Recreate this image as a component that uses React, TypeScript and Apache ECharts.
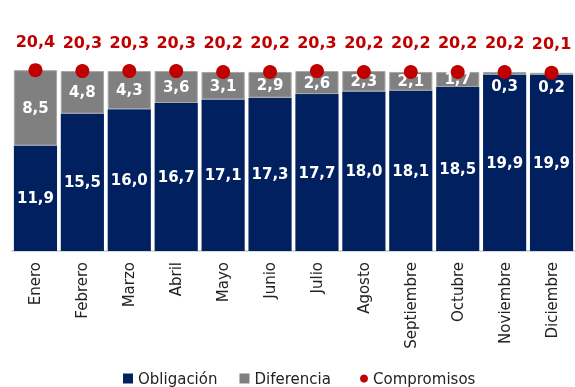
import React, { useEffect, useRef } from "react";
import * as echarts from "echarts";

const categories = ["Enero", "Febrero", "Marzo", "Abril", "Mayo", "Junio", "Julio", "Agosto", "Septiembre", "Octubre", "Noviembre", "Diciembre"];
const obligacion = [11.9, 15.5, 16.0, 16.7, 17.1, 17.3, 17.7, 18.0, 18.1, 18.5, 19.9, 19.9];
const diferencia = [8.5, 4.8, 4.3, 3.6, 3.1, 2.9, 2.6, 2.3, 2.1, 1.7, 0.3, 0.2];
const compromisos = [20.4, 20.3, 20.3, 20.3, 20.2, 20.2, 20.3, 20.2, 20.2, 20.2, 20.2, 20.1];

const FONT = "DejaVu Sans";
const fmt = (v: number) => v.toFixed(1).replace(".", ",");

export default function App() {
  const ref = useRef<HTMLDivElement>(null);
  useEffect(() => {
    if (!ref.current) return;
    const chart = echarts.init(ref.current, undefined, { renderer: "svg" });
    const legendText = { fontFamily: FONT, fontSize: 15, color: "#222" };
    chart.setOption({
      animation: false,
      grid: { left: 12, right: 0, top: 56, bottom: 136 },
      legend: [
        {
          bottom: -4,
          left: 118,
          itemGap: 22,
          itemWidth: 10,
          itemHeight: 10,
          textStyle: legendText,
          data: [
            { name: "Obligación", icon: "rect", itemStyle: { borderWidth: 0 } },
            { name: "Diferencia", icon: "rect", itemStyle: { borderWidth: 0 } },
          ],
        },
        {
          bottom: -4,
          left: 355,
          itemWidth: 8,
          itemHeight: 8,
          textStyle: legendText,
          data: [{ name: "Compromisos", icon: "circle" }],
        },
      ],
      xAxis: {
        type: "category",
        data: categories,
        axisLine: { lineStyle: { color: "#d9d9d9", width: 2 } },
        axisTick: { show: false },
        axisLabel: { rotate: 90, fontFamily: FONT, fontSize: 15, color: "#222", margin: 11 },
      },
      yAxis: { type: "value", min: 0, max: 22, show: false, splitLine: { show: false } },
      series: [
        {
          name: "Obligación",
          type: "bar",
          stack: "t",
          barCategoryGap: "8%",
          data: obligacion,
          itemStyle: { color: "#002060" },
          label: {
            show: true,
            position: "inside",
            color: "#fff",
            fontFamily: FONT,
            fontWeight: "bold",
            fontSize: 15,
            formatter: (p: any) => fmt(p.value),
          },
        },
        {
          name: "Diferencia",
          type: "bar",
          stack: "t",
          data: diferencia.map((v) =>
            v < 1 ? { value: v, label: { position: "insideTop", offset: [0, 2] } } : v
          ),
          itemStyle: { color: "#808080", borderColor: "#a6a6a6", borderWidth: 1 },
          label: {
            show: true,
            position: "inside",
            color: "#fff",
            fontFamily: FONT,
            fontWeight: "bold",
            fontSize: 15,
            formatter: (p: any) => fmt(p.value),
          },
        },
        {
          name: "Compromisos",
          type: "scatter",
          data: compromisos,
          symbolSize: 14,
          itemStyle: { color: "#C00000", opacity: 1 },
          label: {
            show: true,
            position: "top",
            distance: 14,
            color: "#C00000",
            fontFamily: FONT,
            fontWeight: "bold",
            fontSize: 16,
            formatter: (p: any) => fmt(p.value),
          },
          z: 5,
        },
      ],
    });
    return () => chart.dispose();
  }, []);
  return <div ref={ref} style={{ position: "fixed", left: 0, top: 0, width: 575, height: 387 }} />;
}
